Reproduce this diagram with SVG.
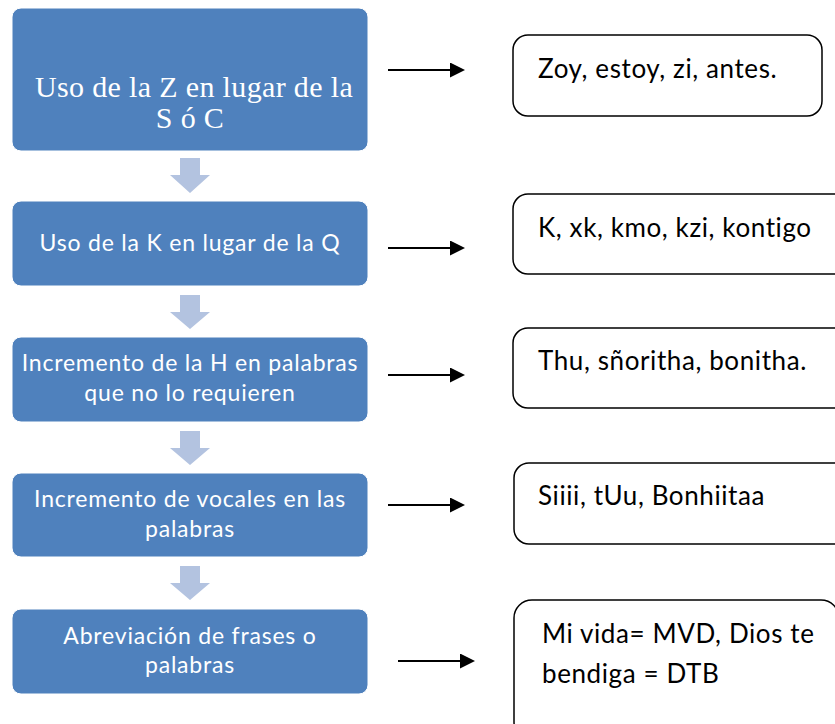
<svg xmlns="http://www.w3.org/2000/svg" width="835" height="724" viewBox="0 0 835 724">
<defs>
<style>
.blue{fill:#4F81BD;stroke:#ffffff;stroke-width:1}
.wt{fill:#ffffff;font-family:Lato,"Liberation Sans",sans-serif;font-size:23px;letter-spacing:0.8px;text-anchor:middle}
.ws{fill:#ffffff;font-family:"Liberation Serif","Times New Roman",serif;font-size:30px;letter-spacing:0.35px;text-anchor:middle}
.ex{fill:#ffffff;stroke:#000000;stroke-width:1.5}
.bt{fill:#000000;font-family:Lato,"Liberation Sans",sans-serif;font-size:26px;letter-spacing:0.6px}
.down{fill:#B3C3E0}
.conn{stroke:#000000;stroke-width:2;fill:none}
</style>
<marker id="ah" viewBox="0 0 15 15" refX="8" refY="7.5" markerWidth="15" markerHeight="15" markerUnits="userSpaceOnUse" orient="auto">
<path d="M0,0 L15,7.5 L0,15 Z" fill="#000000"/>
</marker>
</defs>
<rect width="835" height="724" fill="#ffffff"/>

<g id="n1"><rect class="blue" x="12" y="8" width="356" height="143" rx="9"/>
<text class="ws" x="194" y="97">Uso de la Z en lugar de la</text>
<text class="ws" x="190" y="128">S ó C</text></g>

<g id="n2"><rect class="blue" x="12" y="201" width="356" height="85" rx="9"/>
<text class="wt" x="190" y="251">Uso de la K en lugar de la Q</text></g>

<g id="n3"><rect class="blue" x="12" y="337" width="356" height="85" rx="9"/>
<text class="wt" x="190" y="371">Incremento de la H en palabras</text>
<text class="wt" x="190" y="401">que no lo requieren</text></g>

<g id="n4"><rect class="blue" x="12" y="473" width="356" height="84" rx="9"/>
<text class="wt" x="190" y="507">Incremento de vocales en las</text>
<text class="wt" x="190" y="537">palabras</text></g>

<g id="n5"><rect class="blue" x="12" y="609" width="356" height="85" rx="9"/>
<text class="wt" x="190" y="644">Abreviación de frases o</text>
<text class="wt" x="190" y="673">palabras</text></g>

<g id="e1"><rect class="ex" x="513" y="35" width="309" height="81" rx="15"/>
<text class="bt" x="538" y="78">Zoy, estoy, zi, antes.</text></g>

<g id="e2"><rect class="ex" x="513" y="194" width="340" height="80" rx="15"/>
<text class="bt" x="538" y="237">K, xk, kmo, kzi, kontigo</text></g>

<g id="e3"><rect class="ex" x="513" y="328" width="340" height="80" rx="15"/>
<text class="bt" x="538" y="370">Thu, sñoritha, bonitha.</text></g>

<g id="e4"><rect class="ex" x="514" y="463" width="340" height="81" rx="15"/>
<text class="bt" x="538" y="505">Siiii, tUu, Bonhiitaa</text></g>

<g id="e5"><rect class="ex" x="514" y="600" width="325" height="140" rx="18"/>
<text class="bt" x="542" y="643">Mi vida= MVD, Dios te</text>
<text class="bt" x="542" y="683">bendiga = DTB</text></g>

<g id="connectors">
<path class="down" d="M180,158 H200 V175 H210 L190,193 L170,175 H180 Z"/>
<path class="down" d="M180,295 H200 V312 H210 L190,329 L170,312 H180 Z"/>
<path class="down" d="M180,431 H200 V448 H210 L190,465 L170,448 H180 Z"/>
<path class="down" d="M180,566 H200 V583 H210 L190,600 L170,583 H180 Z"/>
<line class="conn" x1="388" y1="70" x2="458" y2="70" marker-end="url(#ah)"/>
<line class="conn" x1="388" y1="248" x2="458" y2="248" marker-end="url(#ah)"/>
<line class="conn" x1="388" y1="375" x2="458" y2="375" marker-end="url(#ah)"/>
<line class="conn" x1="388" y1="505" x2="458" y2="505" marker-end="url(#ah)"/>
<line class="conn" x1="398" y1="661" x2="468" y2="661" marker-end="url(#ah)"/>
</g>
</svg>
